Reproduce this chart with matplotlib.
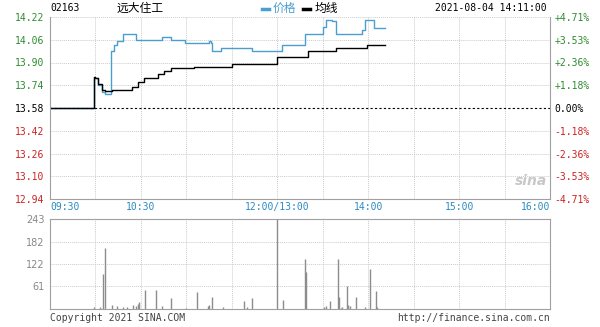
import matplotlib.pyplot as plt

# minutes since 09:30 (trading minutes, lunch break removed: 12:00 -> 150)
price_min = [0, 29, 30, 32, 34, 36, 40, 42, 44, 48, 57, 74, 80, 89, 105, 106, 107,
             113, 133, 153, 168, 180, 182, 186, 189, 206, 208, 214, 221]
price_val = [13.58, 13.80, 13.79, 13.74, 13.69, 13.68, 13.98, 14.02, 14.05, 14.10, 14.06,
             14.08, 14.06, 14.04, 14.05, 14.04, 13.98, 14.00, 13.98, 14.02, 14.10, 14.15,
             14.20, 14.19, 14.10, 14.13, 14.20, 14.14, 14.14]

avg_min = [0, 29, 30, 32, 34, 36, 41, 54, 58, 62, 71, 75, 80, 95, 120, 150, 170, 189, 209, 221]
avg_val = [13.58, 13.80, 13.79, 13.75, 13.71, 13.70, 13.71, 13.73, 13.76, 13.79, 13.82,
           13.84, 13.86, 13.87, 13.89, 13.94, 13.98, 14.00, 14.02, 14.025]

vol_min = [29, 33, 35, 36, 41, 44, 48, 51, 55, 57, 58, 59, 63, 70, 74, 80, 90, 97, 104,
           105, 107, 114, 128, 130, 133, 150, 154, 168, 169, 181, 182, 185, 190, 191, 192,
           193, 196, 197, 198, 202, 208, 211, 215, 216]
vol_val = [5, 5, 94, 164, 11, 8, 5, 5, 10, 8, 14, 19, 51, 51, 9, 31, 3, 47, 8,
           12, 33, 5, 22, 6, 31, 243, 23, 135, 100, 5, 8, 22, 136, 32, 3,
           5, 62, 11, 8, 32, 5, 109, 48, 5]

prev_close = 13.58
price_ticks = [12.94, 13.10, 13.26, 13.42, 13.58, 13.74, 13.90, 14.06, 14.22]
pct_labels = ['-4.71%', '-3.53%', '-2.36%', '-1.18%', '0.00%',
              '+1.18%', '+2.36%', '+3.53%', '+4.71%']
vol_ticks = [61, 122, 182, 243]
time_ticks = [0, 60, 150, 210, 270, 330]
time_labels = ['09:30', '10:30', '12:00/13:00', '14:00', '15:00', '16:00']

green = '#2e8b2e'
red = '#cc2222'
blue = '#4a9fd0'
tblue = '#2a8ac4'
frame = '#a0a0a0'
mono = 'DejaVu Sans Mono'

fig = plt.figure(figsize=(6, 3.27), dpi=100)
ax = fig.add_axes([50 / 600, 128 / 327, 500 / 600, 182 / 327])
axv = fig.add_axes([50 / 600, 18 / 327, 500 / 600, 90 / 327])

# price panel
ax.plot(price_min, price_val, color=blue, lw=1, drawstyle='steps-post')
ax.plot(avg_min, avg_val, color='black', lw=1, drawstyle='steps-post')
ax.axhline(prev_close, color='black', lw=0.8, ls=(0, (2, 2)), zorder=1)
ax.set_xlim(0, 330)
ax.set_ylim(price_ticks[0], price_ticks[-1])
for t in range(30, 330, 30):
    ax.axvline(t, color='#cccccc', lw=0.7, ls=(0, (1, 1)), zorder=0)
for p in price_ticks[1:]:
    if p != prev_close:
        ax.axhline(p, color='#cccccc', lw=0.7, ls=(0, (1, 1)), zorder=0)
ax.set_yticks(price_ticks)
ax.set_yticklabels([f'{p:.2f}' for p in price_ticks], family=mono, fontsize=7)
for lab, p in zip(ax.get_yticklabels(), price_ticks):
    lab.set_color(green if p > prev_close else red if p < prev_close else 'black')
ax.tick_params(axis='y', length=0, pad=4)
ax.set_xticks(time_ticks)
ax.set_xticklabels(time_labels, family=mono, fontsize=7, color=tblue)
ax.tick_params(axis='x', length=0, pad=2)
xl = ax.get_xticklabels()
xl[0].set_ha('left')
xl[-1].set_ha('right')
for s in ax.spines.values():
    s.set_color(frame)
ax.spines['top'].set_visible(False)

axr = ax.twinx()
axr.set_ylim(price_ticks[0], price_ticks[-1])
axr.set_yticks(price_ticks)
axr.set_yticklabels(pct_labels, family=mono, fontsize=7)
for lab, p in zip(axr.get_yticklabels(), price_ticks):
    lab.set_color(green if p > prev_close else red if p < prev_close else 'black')
axr.tick_params(axis='y', length=0, pad=3)
for s in axr.spines.values():
    s.set_visible(False)

# sina watermark
ax.text(0.995, 0.06, 'sina', transform=ax.transAxes, ha='right', va='bottom',
        fontsize=10, style='italic', weight='bold', color='#c8c8c8')

# volume panel
axv.vlines(vol_min, 0, vol_val, color='#8c8c8c', lw=1)
axv.set_xlim(0, 330)
axv.set_ylim(0, 243)
for t in range(30, 330, 30):
    axv.axvline(t, color='#cccccc', lw=0.7, ls=(0, (1, 1)), zorder=0)
for v in vol_ticks[:-1]:
    axv.axhline(v, color='#cccccc', lw=0.7, ls=(0, (1, 1)), zorder=0)
axv.set_yticks(vol_ticks)
axv.set_yticklabels([str(v) for v in vol_ticks], fontsize=7, color='#888888')
axv.tick_params(axis='y', length=0, pad=4)
axv.set_xticks([])
for s in axv.spines.values():
    s.set_color(frame)

# header
fig.text(50 / 600, 1 - 8 / 327, '02163', family=mono, fontsize=7, va='center')
fig.text(140 / 600, 1 - 8 / 327, '远大住工', family=['Noto Sans CJK SC', 'DejaVu Sans'],
         fontsize=8.5, va='center', ha='center')
fig.add_artist(plt.Line2D([262 / 600, 269 / 600], [1 - 9 / 327] * 2, color=blue, lw=2.5))
fig.text(273 / 600, 1 - 8 / 327, '价格', family=['Noto Sans CJK SC', 'DejaVu Sans'],
         fontsize=8.5, va='center', color=blue)
fig.add_artist(plt.Line2D([303 / 600, 310 / 600], [1 - 9 / 327] * 2, color='black', lw=2.5))
fig.text(315 / 600, 1 - 8 / 327, '均线', family=['Noto Sans CJK SC', 'DejaVu Sans'],
         fontsize=8.5, va='center')
fig.text(547 / 600, 1 - 8 / 327, '2021-08-04 14:11:00', family=mono, fontsize=7,
         va='center', ha='right')

# footer
fig.text(50 / 600, 1 - 318 / 327, 'Copyright 2021 SINA.COM', family=mono, fontsize=7,
         va='center', color='#444444')
fig.text(550 / 600, 1 - 318 / 327, 'http://finance.sina.com.cn', family=mono, fontsize=7,
         va='center', ha='right', color='#444444')

fig.savefig('out.png', dpi=100)
